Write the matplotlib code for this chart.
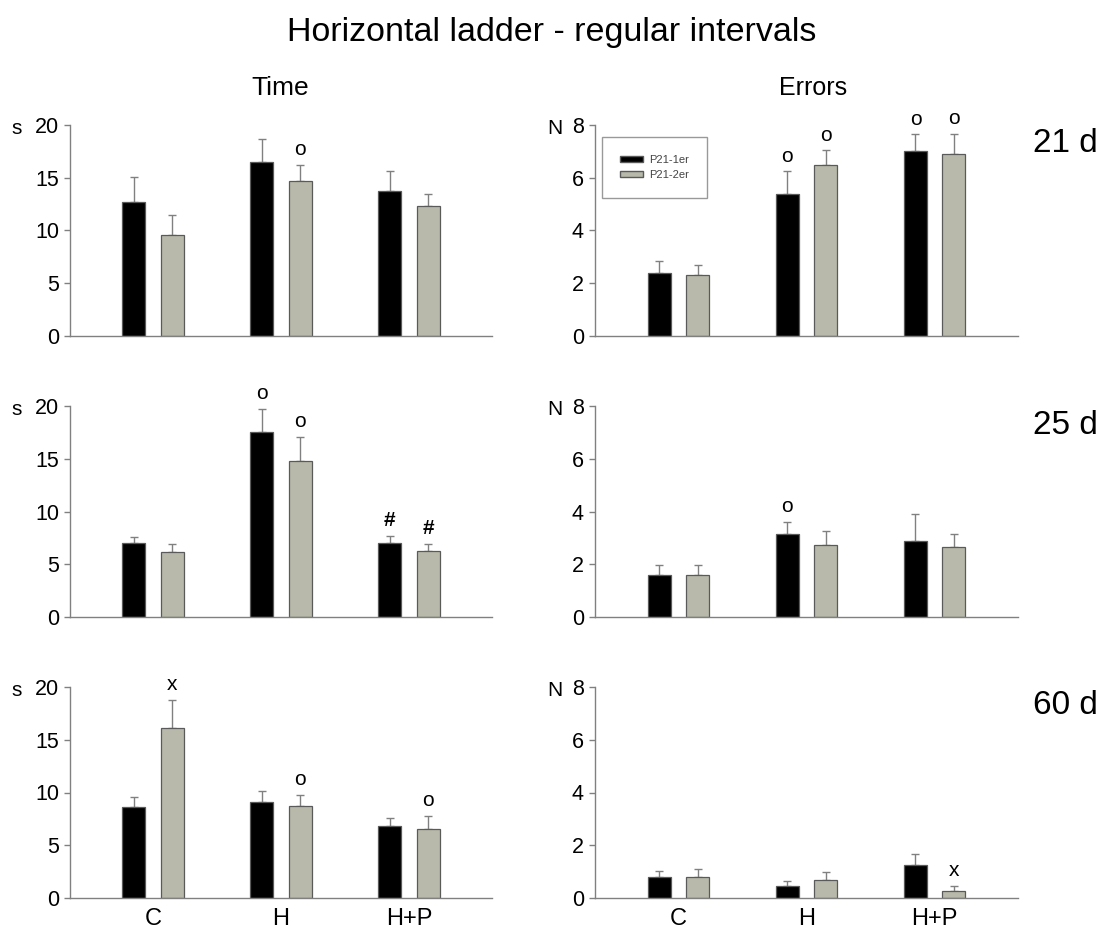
import matplotlib
matplotlib.use('Agg')
from matplotlib import pyplot as plt
from matplotlib.patches import Patch

plt.rcParams['font.family'] = ['Liberation Sans', 'DejaVu Sans']

## data
groups = ['C', 'H', 'H+P']
days = ['21 d', '25 d', '60 d']
series = ['P21-1er', 'P21-2er']

time_1er = [[12.7, 16.5, 13.7], [7.05, 17.5, 7.0], [8.6, 9.1, 6.8]]
time_1er_err = [[2.35, 2.2, 1.9], [0.55, 2.2, 0.7], [1.0, 1.0, 0.8]]
time_2er = [[9.6, 14.7, 12.3], [6.2, 14.8, 6.3], [16.1, 8.75, 6.55]]
time_2er_err = [[1.85, 1.55, 1.15], [0.73, 2.25, 0.63], [2.65, 1.05, 1.25]]

errors_1er = [[2.4, 5.4, 7.0], [1.6, 3.15, 2.9], [0.8, 0.47, 1.27]]
errors_1er_err = [[0.45, 0.84, 0.65], [0.36, 0.47, 1.0], [0.24, 0.19, 0.41]]
errors_2er = [[2.32, 6.47, 6.9], [1.6, 2.72, 2.66], [0.8, 0.7, 0.25]]
errors_2er_err = [[0.36, 0.57, 0.76], [0.39, 0.55, 0.47], [0.3, 0.29, 0.22]]

## significance marks: (group, series, symbol)
time_marks = [[(1, 1, 'o')],
              [(1, 0, 'o'), (1, 1, 'o'), (2, 0, '#'), (2, 1, '#')],
              [(0, 1, 'x'), (1, 1, 'o'), (2, 1, 'o')]]
errors_marks = [[(1, 0, 'o'), (1, 1, 'o'), (2, 0, 'o'), (2, 1, 'o')],
                [(1, 0, 'o')],
                [(2, 1, 'x')]]

black = '#000000'
grey = '#b8b9aa'
line_col = '#808080'

W, H = 1105, 933
fig = plt.figure(figsize=(W / 100, H / 100), dpi=100)

col_x = [70, 595]
col_w = [422, 423]
row_top = [125, 406, 687]
row_h = 211


def draw_panel(ax, v1, e1, v2, e2, marks, ymax, step, unit, show_x):
    x = list(range(len(groups)))
    off, w = 0.15, 0.18
    vals = [v1, v2]
    errs = [e1, e2]
    cols = [black, grey]
    for s in range(2):
        xs = [i - off if s == 0 else i + off for i in x]
        ax.bar(xs, vals[s], width=w, color=cols[s], edgecolor='#5a5a5a',
               linewidth=0.9, zorder=2)
        ax.errorbar(xs, vals[s], yerr=[[0] * len(x), errs[s]], fmt='none',
                    ecolor=line_col, elinewidth=1, capsize=3, capthick=1,
                    zorder=1)
    for g, s, sym in marks:
        xx = g - off if s == 0 else g + off
        top = vals[s][g] + errs[s][g]
        ax.annotate(sym, (xx, top), xytext=(0, 7), textcoords='offset points',
                    ha='center', va='baseline', fontsize=15,
                    fontweight='bold' if sym == '#' else 'normal',
                    annotation_clip=False)
    ax.set_xlim(-0.65, 2.65)
    ax.set_ylim(0, ymax)
    ax.set_yticks(range(0, ymax + 1, step))
    ax.spines['top'].set_visible(False)
    ax.spines['right'].set_visible(False)
    for sp in ['left', 'bottom']:
        ax.spines[sp].set_color(line_col)
        ax.spines[sp].set_linewidth(1)
    ax.tick_params(axis='y', direction='out', length=4, width=1,
                   color=line_col, labelsize=15.5, pad=4)
    ax.tick_params(axis='x', length=0, labelsize=17, pad=7)
    ax.set_xticks(x)
    if show_x:
        ax.set_xticklabels(groups)
    else:
        ax.set_xticklabels([])
    ax.text(-0.126 if ymax == 20 else -0.094, 0.985, unit,
            transform=ax.transAxes, ha='center', va='center', fontsize=15)


for r in range(3):
    bottom = 1 - (row_top[r] + row_h) / H
    ax_t = fig.add_axes([col_x[0] / W, bottom, col_w[0] / W, row_h / H])
    draw_panel(ax_t, time_1er[r], time_1er_err[r], time_2er[r],
               time_2er_err[r], time_marks[r], 20, 5, 's', r == 2)
    ax_e = fig.add_axes([col_x[1] / W, bottom, col_w[1] / W, row_h / H])
    draw_panel(ax_e, errors_1er[r], errors_1er_err[r], errors_2er[r],
               errors_2er_err[r], errors_marks[r], 8, 2, 'N', r == 2)
    fig.text(1065 / W, 1 - (row_top[r] + 19) / H, days[r],
             ha='center', va='center', fontsize=24)
    if r == 0:
        handles = [Patch(facecolor=black, edgecolor='#5a5a5a', label=series[0]),
                   Patch(facecolor=grey, edgecolor='#5a5a5a', label=series[1])]
        leg = ax_e.legend(handles=handles, loc='upper left',
                          bbox_to_anchor=(0.017, 0.943), fontsize=8,
                          frameon=True, fancybox=False, borderpad=1.6,
                          handlelength=2.1, handleheight=0.55,
                          handletextpad=0.5, labelspacing=0.45,
                          borderaxespad=0)
        leg.get_frame().set_edgecolor(line_col)
        leg.get_frame().set_linewidth(1)
        for t in leg.get_texts():
            t.set_color('#444444')

## titles
fig.text(552 / W, 1 - 32 / H, 'Horizontal ladder - regular intervals',
         ha='center', va='center', fontsize=24.5)
fig.text(280 / W, 1 - 88 / H, 'Time', ha='center', va='center', fontsize=19)
fig.text(813 / W, 1 - 88 / H, 'Errors', ha='center', va='center', fontsize=18)

fig.savefig('out.png', dpi=100)
